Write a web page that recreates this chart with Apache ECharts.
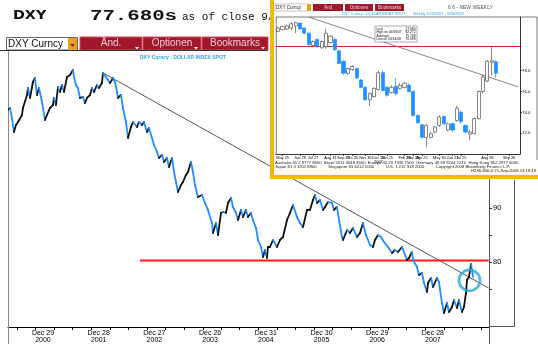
<!DOCTYPE html>
<html><head><meta charset="utf-8">
<script src="https://cdn.jsdelivr.net/npm/echarts@6/dist/echarts.min.js"></script>
<style>html,body{margin:0;padding:0;background:#fff}#c{width:538px;height:344px}</style>
</head><body><div id="c"></div>
<script>
// ---------- main weekly DXY trace (decimal year, index level) ----------
const mainYears = [2000.372,2000.408,2000.443,2000.479,2000.515,2000.551,2000.623,2000.641,2000.713,2000.731,2000.767,2000.820,2000.856,2000.892,2000.928,2000.982,2001.036,2001.072,2001.126,2001.180,2001.197,2001.233,2001.269,2001.305,2001.341,2001.377,2001.431,2001.485,2001.539,2001.557,2001.592,2001.628,2001.664,2001.718,2001.754,2001.790,2001.844,2001.880,2001.916,2001.969,2002.005,2002.059,2002.077,2002.131,2002.167,2002.203,2002.257,2002.293,2002.329,2002.346,2002.400,2002.436,2002.490,2002.526,2002.580,2002.616,2002.688,2002.724,2002.777,2002.813,2002.867,2002.903,2002.957,2002.993,2003.047,2003.083,2003.136,2003.172,2003.226,2003.262,2003.316,2003.352,2003.388,2003.424,2003.478,2003.513,2003.567,2003.603,2003.657,2003.693,2003.729,
2003.783,2003.855,2003.908,2003.962,2004.034,2004.052,2004.106,2004.142,2004.196,2004.232,2004.285,2004.321,2004.375,2004.411,2004.465,2004.501,2004.555,2004.591,2004.645,2004.680,2004.734,2004.770,2004.824,2004.860,2004.914,2004.950,2004.986,2005.021,2005.039,2005.075,
2005.129,2005.201,2005.255,2005.309,2005.381,2005.434,2005.488,2005.560,2005.614,2005.668,2005.740,2005.793,2005.847,2005.883,2005.919,2005.973,2006.027,2006.063,2006.117,2006.189,2006.224,2006.278,2006.314,2006.368,2006.386,2006.458,2006.512,2006.565,2006.637,2006.691,2006.745,2006.799,2006.871,2006.924,2006.960,2007.014,2007.068,2007.122,2007.194,2007.266,2007.319,2007.373,2007.445,2007.499,2007.535,2007.571,2007.625,2007.643,2007.714,2007.750,2007.804,2007.840,2007.894,2007.912,2007.966,2008.002,2008.074,2008.109,2008.163,2008.199,2008.253,2008.289,2008.343,2008.379,2008.433,2008.469,2008.522,2008.558,2008.594,2008.612,2008.648,2008.684,2008.720];
const mainValues = [108.11,108.48,106.63,104.04,105.33,105.89,107.18,108.48,110.88,112.17,110.33,113.28,114.02,110.88,112.17,109.59,106.26,107.18,108.48,109.03,110.33,109.03,112.36,111.43,112.73,111.43,114.21,114.58,115.50,114.21,112.73,112.17,110.33,110.51,109.40,110.33,110.88,112.17,111.43,112.73,112.17,113.10,114.95,114.21,113.65,113.10,114.02,113.28,111.43,110.33,110.88,108.48,105.89,102.93,104.96,105.89,104.96,105.89,105.33,105.89,104.04,104.78,102.93,101.63,100.34,99.23,99.79,98.49,99.23,97.57,99.23,96.64,94.79,92.94,94.24,94.79,96.09,96.64,98.49,96.64,94.24,
92.02,92.39,90.91,89.62,87.21,85.36,87.21,84.99,89.06,89.25,89.06,90.91,91.83,90.17,89.06,87.77,89.62,88.32,89.62,88.32,89.06,87.77,86.29,84.07,82.77,80.92,82.22,80.74,82.77,82.77,
84.07,82.77,84.07,84.62,87.77,89.06,90.54,88.32,87.21,86.47,89.62,89.62,91.46,92.39,90.91,91.46,89.62,90.17,91.09,90.91,89.62,90.17,87.77,84.62,84.07,85.92,85.36,86.29,84.62,85.36,87.21,84.99,83.14,82.77,84.07,84.99,84.62,83.70,82.77,81.66,82.22,81.85,82.77,81.29,80.37,80.74,81.85,80.37,79.08,77.60,77.97,76.12,74.45,76.12,77.04,75.38,77.04,76.30,72.42,70.57,72.42,70.75,71.68,72.97,71.49,72.97,70.75,71.68,74.27,76.67,77.23,79.63,77.23];

const xLabelYears = [2001,2002,2003,2004,2005,2006,2007,2008];
const xLabelTexts = ['Dec 29\n2000','Dec 28\n2001','Dec 27\n2002','Dec 26\n2003','Dec 31\n2004','Dec 30\n2005','Dec 29\n2006','Dec 28\n2007'];
const xTickYears = [2000.53,2000.87,2001.2,2001.53,2001.87,2002.2,2002.53,2002.87,2003.2,2003.53,2003.87,2004.2,2004.53,2004.87,2005.2,2005.53,2005.87,2006.2,2006.53,2006.87,2007.2,2007.53,2007.87,2008.2,2008.53,2008.87];
const yLabelValues = [80, 90];
const yTickValues = [75, 80, 85, 90];
const trendMain = [[2002.077, 114.95], [2009.0, 75.19]];
const resistMain = [[2002.74, 80.28], [2009.0, 80.28]];
const breakoutPoint = [[2008.657, 76.6]];

// ---------- inset: weekly candles ----------
const insetOpen  = [81.77,81.93,82.00,82.10,82.30,82.57,82.10,81.60,80.40,81.00,80.20,80.30,80.70,81.00,79.90,78.90,77.75,78.10,78.20,77.10,76.40,75.20,75.50,76.20,77.80,76.40,75.90,76.50,76.30,76.40,76.60,76.00,73.70,72.80,71.60,71.60,72.10,72.75,73.60,72.30,72.90,73.20,74.00,72.75,71.90,71.95,73.40,76.00,77.00,78.80,78.85];
const insetClose = [82.09,82.25,82.30,82.50,82.60,82.00,81.60,80.50,80.80,80.30,80.80,81.60,81.30,80.00,78.70,77.75,78.20,78.40,77.30,76.40,75.20,75.80,76.30,77.80,76.10,75.65,76.40,75.80,76.60,76.80,76.00,73.70,73.00,71.60,72.75,71.95,72.60,73.55,72.90,72.90,72.30,74.40,73.10,72.10,72.10,73.40,76.00,77.40,78.90,78.95,77.75];
const insetLow   = [81.70,81.85,81.90,81.90,81.60,81.95,81.50,80.40,80.30,80.20,80.10,80.10,80.60,79.90,78.60,77.60,77.60,78.00,77.20,76.30,75.10,74.60,75.40,76.10,76.00,75.50,75.80,75.60,76.20,76.30,75.90,73.60,72.90,71.50,70.66,71.50,72.00,72.60,72.80,72.20,72.10,73.10,72.90,72.00,71.30,71.90,73.30,75.80,76.90,77.50,77.30];
const insetHigh  = [82.20,82.30,82.40,82.65,82.70,82.60,82.10,81.65,80.90,81.10,80.90,82.00,81.40,81.20,80.00,79.00,78.30,78.50,78.30,77.20,76.50,75.90,76.40,78.00,78.00,76.50,76.60,77.30,76.80,76.90,76.80,76.10,73.80,72.90,72.90,72.10,72.70,73.70,73.70,73.00,73.00,74.60,74.20,72.80,72.30,73.50,76.10,77.60,79.00,80.30,79.00];
const insetSlots = 56;
const insetLabelIdx  = [1,5,8,12,15,17,20,23,25,29,31,33,37,40,42,48,53];
const insetLabelText = ['May 25','Jun 29','Jul 27','Aug 31','Sep 28','Oct 26','Nov 30','Dec 28\n2007','Jan 25','Feb 29','Mar 28','Apr 25','May 30','Jun 27','Jul 25','Aug 29','Sep 26'];
const insetYLabels = [72, 74, 76, 78];
const insetTrend = [[7, 83.15], [55, 76.45]];
const insetResist = 80.32;

// ---------- build ----------
const mainData = mainYears.map((t, i) => [t, mainValues[i]]);
const insetCats = new Array(insetSlots).fill('');
insetLabelIdx.forEach((k, j) => { insetCats[k] = insetLabelText[j]; });
const insetCandles = insetOpen.map((o, i) => [o, insetClose[i], insetLow[i], insetHigh[i]]);

const SANS = '"Liberation Sans", Arial, sans-serif';
function T(x, y, text, font, fill, align, va, z, extra) {
  return Object.assign({type:'text', x:x, y:y, z:z||1, silent:true,
    style:{text:text, font:font, fill:fill, align:align||'left', verticalAlign:va||'middle'}}, extra||{});
}
function R(x, y, w, h, fill, stroke, lw, z) {
  return {type:'rect', z:z||1, silent:true, shape:{x:x,y:y,width:w,height:h},
    style:{fill:fill, stroke:stroke||null, lineWidth:lw||0}};
}
function L(x1, y1, x2, y2, stroke, lw, z) {
  return {type:'line', z:z||1, silent:true, shape:{x1:x1,y1:y1,x2:x2,y2:y2}, style:{stroke:stroke, lineWidth:lw||1}};
}
function P(points, fill, z) {
  return {type:'polygon', z:z||1, silent:true, shape:{points:points}, style:{fill:fill}};
}

const G = [];
// header
G.push(T(13, 16, 'DXY', 'bold 13px "DejaVu Sans"', '#111', 'left', 'middle', 1, {scaleX:1.1}));
G.push(T(90, 16.5, '77.680s', 'bold 14px "Liberation Mono"', '#111', 'left', 'middle', 1, {scaleX:1.48}));
G.push(T(182, 17, 'as of close 9/19/08', '11px "Liberation Mono"', '#111', 'left', 'middle', 1));
// toolbar
G.push(R(6.5, 37.5, 71, 12.5, '#fff', '#666', 1));
G.push(T(8, 44, 'DXY Curncy', '10px ' + SANS, '#111'));
G.push(R(68, 38, 9, 11.5, '#f0a020'));
G.push(P([[70,44],[75,44],[72.5,47]], '#7a2a10'));
const btns = [[80,62,'Änd.'],[143,58,'Optionen'],[202,66,'Bookmarks']];
btns.forEach(b => {
  G.push(R(b[0], 37, b[1], 13, '#a0182a', '#d04a5a', 1));
  G.push(T(b[0] + b[1]/2, 43, b[2], '10px ' + SANS, '#f2c9d6', 'center'));
  G.push(P([[b[0]+b[1]-7,47],[b[0]+b[1]-3,47],[b[0]+b[1]-5,49.5]], '#fff'));
});
G.push(L(0, 50.5, 268, 50.5, '#333', 1));
G.push(T(140, 57.5, 'DXY Curncy : DOLLAR INDEX SPOT', 'bold 5px ' + SANS, '#22aadd'));
// frame lines of main chart
G.push(L(8.5, 51, 8.5, 344, '#888', 1));
G.push(L(489.5, 327, 489.5, 344, '#555', 1));
G.push({type:'polyline', z:1, silent:true, shape:{points:[[489.5,326.5],[514.5,326.5],[514.5,180]]}, style:{stroke:'#555', lineWidth:1, fill:null}});

// inset panel
G.push({type:'rect', z:5, silent:true, shape:{x:272, y:-5, width:275, height:182}, style:{fill:'#fff', stroke:'#f6b700', lineWidth:4}});
const ZI = 11;
G.push(R(275, 4, 33, 7, '#fff', '#888', 0.5, ZI));
G.push(T(276, 7.6, 'DXY Curncy', '4.6px ' + SANS, '#222', 'left', 'middle', ZI));
G.push(R(307, 4, 4, 7, '#f0a000', null, 0, ZI));
[[313,30,'Änd'],[345,28,'Optionen'],[375,29,'Bookmarks']].forEach(b => {
  G.push(R(b[0], 4, b[1], 7, '#a0182a', null, 0, ZI));
  G.push(T(b[0] + b[1]/2, 7.3, b[2], '4.6px ' + SANS, '#f2c9d6', 'center', 'middle', ZI));
});
G.push(T(448, 7.5, '6 6 - NEW WEEKLY', '5px ' + SANS, '#555', 'left', 'middle', ZI));
G.push(T(342, 13.8, 'DXY Curncy : DOLLAR INDEX SPOT', '3.8px ' + SANS, '#22aadd', 'left', 'middle', ZI));
G.push(T(413, 13.8, 'Weekly 5/25/2007 - 9/26/2008', '3.8px ' + SANS, '#22aadd', 'left', 'middle', ZI));
G.push(L(276, 17, 537, 17, '#444', 0.7, ZI));
G.push(L(276.3, 17, 276.3, 154, '#444', 0.7, ZI));
G.push(L(537, 17, 537, 160, '#444', 0.7, ZI));
G.push(R(375, 26, 42, 16, '#fff', '#777', 0.6, ZI));
const infoL = ['Last','High on 06/08/07','Average','Low on 03/14/08'];
const infoR = ['77.680','82.272','75.748','70.698'];
infoL.forEach((s, i) => {
  G.push(T(376.5, 28.6 + i*3.6, s, '3.3px ' + SANS, '#111', 'left', 'middle', ZI));
  G.push(T(415.5, 28.6 + i*3.6, infoR[i], '3.3px ' + SANS, '#111', 'right', 'middle', ZI));
});
G.push(T(275, 162.5, 'Australia 61 2 9777 8600  Brazil 5511 3048 4500  Europe 44 20 7330 7500  Germany 49 69 9204 1210  Hong Kong 852 2977 6000', '4.2px ' + SANS, '#222', 'left', 'middle', ZI));
G.push(T(275, 166.5, 'Japan 81 3 3201 8900          Singapore 65 6212 1000          U.S. 1 212 318 2000          Copyright 2008 Bloomberg Finance L.P.', '4.2px ' + SANS, '#222', 'left', 'middle', ZI));
G.push(T(536, 170.5, 'H286-840-0 21-Sep-2008 13:19:49', '4.2px ' + SANS, '#222', 'right', 'middle', ZI));

const chart = echarts.init(document.getElementById('c'));
chart.setOption({
  animation: false,
  backgroundColor: '#fff',
  grid: [
    {left: 8, right: 49, top: 62, bottom: 17},
    {left: 276, right: 18, top: 17, bottom: 190}
  ],
  xAxis: [
    {type:'value', gridIndex:0, min:2000.372, max:2009.007, splitLine:{show:false},
     axisLine:{lineStyle:{color:'#000', width:1}},
     axisTick:{show:true, length:3, customValues:xTickYears, lineStyle:{color:'#000'}},
     axisLabel:{customValues:xLabelYears, fontSize:7, lineHeight:6.5, margin:3, color:'#000', fontFamily:SANS,
       formatter: v => xLabelTexts[xLabelYears.indexOf(Math.round(v))] || ''}},
    {type:'category', gridIndex:1, data:insetCats, boundaryGap:true, z:10,
     axisLine:{lineStyle:{color:'#000', width:0.8}},
     axisTick:{show:true, length:2, alignWithLabel:true, interval:(i, v) => v !== '', lineStyle:{color:'#000', width:0.6}},
     axisLabel:{interval:(i, v) => v !== '', fontSize:3.9, lineHeight:4.4, margin:1.5, color:'#000', fontFamily:SANS}}
  ],
  yAxis: [
    {type:'value', gridIndex:0, position:'right', min:67.98, max:116.98, splitLine:{show:false},
     axisLine:{show:true, lineStyle:{color:'#555', width:1}},
     axisTick:{show:true, length:3, customValues:yTickValues, lineStyle:{color:'#333'}},
     axisLabel:{customValues:yLabelValues, fontSize:7.5, margin:4, color:'#000', fontFamily:SANS}},
    {type:'value', gridIndex:1, position:'right', min:70, max:83.15, splitLine:{show:false}, z:10,
     axisLine:{show:true, lineStyle:{color:'#000', width:0.8}},
     axisTick:{show:true, length:2, customValues:insetYLabels, lineStyle:{color:'#000', width:0.6}},
     axisLabel:{customValues:insetYLabels, fontSize:4.3, margin:2, color:'#000', fontFamily:SANS,
       formatter: v => v.toFixed(1)}}
  ],
  graphic: G,
  series: [
    {type:'line', xAxisIndex:0, yAxisIndex:0, data:trendMain, symbol:'none', silent:true, z:1,
     lineStyle:{color:'#555', width:1}},
    {type:'line', xAxisIndex:0, yAxisIndex:0, data:resistMain, symbol:'none', silent:true, z:1,
     lineStyle:{color:'#ff1a1a', width:2}},
    {type:'custom', xAxisIndex:0, yAxisIndex:0, data:mainData, encode:{x:0, y:1}, z:2, clip:true, silent:true,
     renderItem: (params, api) => {
       const i = params.dataIndex;
       if (i >= mainData.length - 1) return null;
       const a = api.coord(mainData[i]), b = api.coord(mainData[i+1]);
       const down = mainData[i+1][1] < mainData[i][1];
       return {type:'line', shape:{x1:a[0], y1:a[1], x2:b[0], y2:b[1]},
               style:{stroke: down ? '#1e90ff' : '#111', lineWidth:1.8, lineCap:'round'}};
     }},
    {type:'scatter', xAxisIndex:0, yAxisIndex:0, data:breakoutPoint, symbol:'circle', symbolSize:21, z:3, silent:true,
     itemStyle:{color:'rgba(0,0,0,0)', borderColor:'#2ea6dc', borderWidth:2.7}},
    {type:'candlestick', xAxisIndex:1, yAxisIndex:1, data:insetCandles, barWidth:3.6, z:10, silent:true,
     itemStyle:{color:'#ffffff', color0:'#1e90ff', borderColor:'#555', borderColor0:'#1e90ff', borderWidth:0.7},
     markLine:{symbol:'none', silent:true, label:{show:false}, lineStyle:{color:'#e02828', width:1, type:'solid'},
       data:[{yAxis: insetResist}]}},
    {type:'line', xAxisIndex:1, yAxisIndex:1, data:insetTrend, symbol:'none', silent:true, z:9,
     lineStyle:{color:'#666', width:0.8}}
  ]
});
</script></body></html>
